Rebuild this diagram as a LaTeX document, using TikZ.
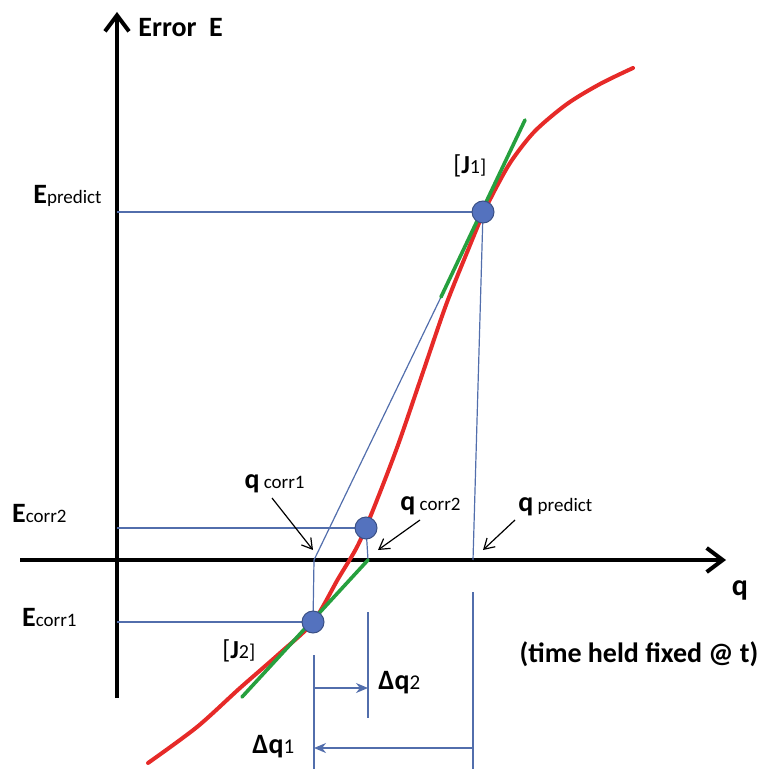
\documentclass[tikz,border=0pt]{standalone}
\usepackage{fontspec}
\setmainfont{Carlito}
\usetikzlibrary{arrows.meta, positioning}

\definecolor{guideblue}{RGB}{82,110,172}
\definecolor{dotblue}{RGB}{84,114,190}
\definecolor{curvered}{RGB}{230,42,40}
\definecolor{tangreen}{RGB}{38,160,62}

\newcommand{\biglbl}[2]{{\fontsize{14}{14}\selectfont\bfseries #1}{\fontsize{9.5}{10}\selectfont\mdseries #2}}

\begin{document}
\begin{tikzpicture}[
        x=0.5pt, y=-0.5pt,
        axis/.style={line width=2pt, -{Straight Barb[length=8pt, width=12pt, line width=2pt]}},
        guide/.style={guideblue, line width=0.6pt},
        newton/.style={curvered, line width=2pt, line cap=round},
        tangent/.style={tangreen, line width=1.8pt, line cap=round},
        jpoint/.style={circle, fill=dotblue, draw=dotblue!70!black, line width=0.5pt, minimum size=11pt, inner sep=0pt},
        pointer/.style={black, line width=0.6pt, -{Straight Barb[length=5pt, width=6pt]}},
        delta/.style={guideblue, line width=0.6pt, -{Stealth[length=6pt, width=5pt]}},
        lbl/.style={inner sep=0pt, font=\fontsize{14}{14}\selectfont\bfseries}
    ]
    \useasboundingbox (0,0) rectangle (774,769);
%
    % Points
    \coordinate (ytop) at (117,12);
    \coordinate (ybot) at (117,698);
    \coordinate (xleft) at (20,560);
    \coordinate (xright) at (726,560);
    \coordinate (j1) at (483,212);
    \coordinate (j2) at (313,622);
    \coordinate (c2) at (366,528);
    \coordinate (qc1) at (314,560);
    \coordinate (qc2) at (368,560);
    \coordinate (qpred) at (473,560);
    \coordinate (t1top) at (525,120);
    \coordinate (t1bot) at (441,297);
    \coordinate (t2bot) at (242,697);
%
    % Axes
    \draw[axis] (ybot) -- (ytop);
    \draw[axis] (xleft) -- (xright);
%
    % Guides
    \draw[guide] (j1 -| ybot) -- (j1);
    \draw[guide] (c2 -| ybot) -- (c2);
    \draw[guide] (j2 -| ybot) -- (j2);
    \draw[guide] (j1) -- (qpred);
    \draw[guide] (473,592) -- (473,769);
    \draw[guide] (t1bot) -- (qc1);
    \draw[guide] (qc1) -- (j2);
    \draw[guide] (314,655) -- (314,769);
    \draw[guide] (c2) -- (qc2);
    \draw[guide] (368,612) -- (368,718);
%
    % Curve and tangents
    \draw[newton] plot[smooth, tension=0.5] coordinates {(148,763) (197,727) (240,688) (280,653) (313,622) (338,579) (358,545) (375,505) (398,445) (422,375) (446,305) (468,250) (483,214) (497,186) (512,160) (535,131) (567,104) (600,84) (633,68)};
    \draw[tangent] (t1top) -- (t1bot);
    \draw[tangent] (qc2) -- (t2bot);
%
    % Nodes
    \node[jpoint] (J1) at (j1) {};
    \node[jpoint] (J2) at (j2) {};
    \node[jpoint] (C2) at (c2) {};
    \node[lbl, anchor=base west] (errlbl) at (138,37) {Error\ \ E};
    \node[lbl, anchor=base] (qlbl) at (740,595) {\fontsize{15}{15}\selectfont q};
    \node[lbl, anchor=base] (timelbl) at (639,662) {\fontsize{14}{14}\selectfont (time held fixed @ t)};
    \node[lbl, anchor=base east] (epred) at (102,204) {\biglbl{E}{predict}};
    \node[lbl, anchor=base east] (ecorr2) at (67,522) {\biglbl{E}{corr2}};
    \node[lbl, anchor=base east] (ecorr1) at (77,626) {\biglbl{E}{corr1}};
    \node[lbl, anchor=base east] (qcorr1) at (305,488) {\biglbl{q}{ corr1}};
    \node[lbl, anchor=base west] (qcorr2) at (400,510) {\biglbl{q}{ corr2}};
    \node[lbl, anchor=base west] (qpredlbl) at (518,511) {\biglbl{q}{ predict}};
    \node[anchor=base west, inner sep=0pt, font=\fontsize{13}{13}\selectfont] (J1lbl) at (453,174) {[\textbf{J}\fontsize{10}{10}\selectfont 1]};
    \node[anchor=base west, inner sep=0pt, font=\fontsize{13}{13}\selectfont] (J2lbl) at (222,658) {[\textbf{J}\fontsize{10}{10}\selectfont 2]};
    \node[lbl, anchor=base west] (dq2) at (378,689) {\biglbl{Δq}{\fontsize{10.5}{11}\selectfont 2}};
    \node[lbl, anchor=base west] (dq1) at (252,753) {\biglbl{Δq}{\fontsize{10.5}{11}\selectfont 1}};
%
    % Arrows
    \draw[pointer] (272,498) -- (313,550);
    \draw[pointer] (420,520) -- (378,550);
    \draw[pointer] (515,520) -- (483,550);
    \draw[delta] (314,688) -- (368,688);
    \draw[delta] (473,748) -- (314,748);
%
\end{tikzpicture}
\end{document}
